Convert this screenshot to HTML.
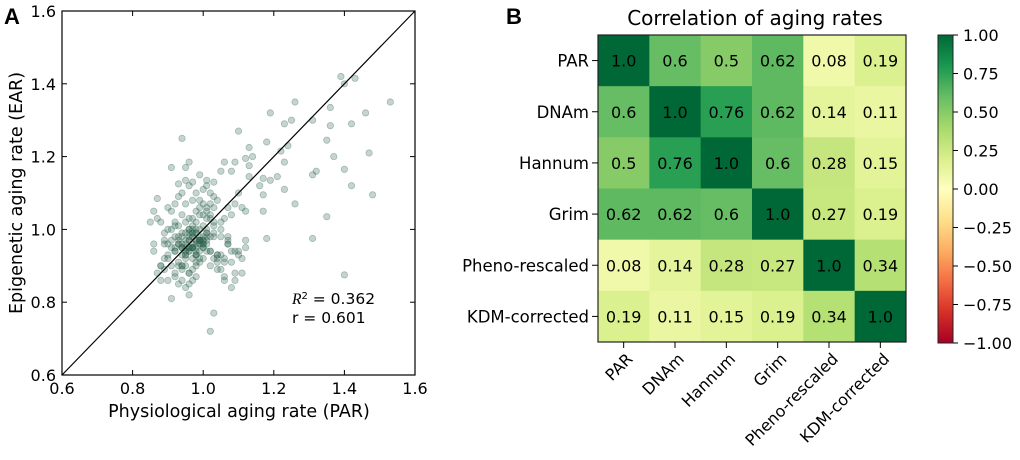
<!DOCTYPE html>
<html><head><meta charset="utf-8">
<style>
html,body{margin:0;padding:0;background:#fff;}
svg{display:block;font-family:"DejaVu Sans","Liberation Sans",sans-serif;}
</style></head>
<body>
<svg id="fig" width="1020" height="460" viewBox="0 0 1020 460" xmlns="http://www.w3.org/2000/svg">
  <text x="4" y="24" font-size="22" font-weight="bold" font-family="Liberation Sans, sans-serif">A</text>
  <text x="506" y="24" font-size="22" font-weight="bold" font-family="Liberation Sans, sans-serif">B</text>
  <g id="scatter"></g>
  <g id="heat"></g>
</svg>
<script>
// ---------- Scatter data ----------
const parValues = [1.39,1.40,1.43,1.53,1.26,1.25,1.23,1.19,1.31,1.36,1.46,1.42,1.36,1.35,1.18,1.24,1.22,1.23,1.37,1.47,1.10,0.94,1.13,1.14,1.12,1.13,1.21,1.17,1.19,1.23,1.40,1.31,1.32,1.42,1.48,1.16,1.17,1.26,1.17,1.35,1.18,1.31,1.40,1.03,1.02,0.91,0.96,0.91,0.95,0.96,1.05,1.06,1.09,1.08,1.13,0.99,1.01,1.03,0.97,0.95,0.93,
0.86,0.87,0.88,0.85,0.86,0.88,0.89,0.90,0.87,0.86,0.89,0.90,0.91,0.92,0.88,0.87,0.89,0.90,0.91,0.92,0.93,0.94,0.90,0.91,0.92,0.93,0.94,0.95,0.96,0.92,0.93,0.94,0.95,0.96,0.97,0.98,0.93,0.94,0.95,0.96,0.97,0.98,0.99,1.00,0.94,0.95,0.96,0.97,0.98,0.99,1.00,1.01,0.95,0.96,0.97,0.98,0.99,1.00,1.01,1.02,0.96,0.97,0.98,0.99,1.00,1.01,1.02,1.03,0.97,0.98,0.99,1.00,1.01,1.02,1.03,1.04,0.98,0.99,1.00,1.01,1.02,1.03,1.05,1.06,1.07,1.08,1.09,1.10,1.11,1.12,1.04,1.05,1.06,1.07,1.08,1.09,1.10,1.12,0.90,0.92,0.94,0.96,0.98,1.00,1.02,1.04,1.06,0.91,0.93,0.95,0.97,0.99,1.01,1.03,1.05,0.92,0.94,0.96,0.98,1.00,1.02,1.04,0.93,0.95,0.97,0.99,1.01,1.03,0.89,0.91,0.93,0.95,0.97,0.99,1.01,1.03,1.05,1.07,1.09,1.11,0.94,0.96,0.98,1.00,1.02,1.04,1.06,1.08,0.97,0.99,1.01,1.03,1.05,1.07,0.95,0.97,0.99,1.01,0.96,0.98,1.00,0.95,0.97,0.99,0.96,0.98,0.94,0.96,0.98,1.00,0.92,0.94,0.96,0.98,1.00,1.02,0.93,0.95,0.97,0.99,1.01,0.92,0.94,0.96,0.98,1.00,0.93,0.95,0.97,0.99,0.94,0.96,0.98,0.95,0.97,0.99,0.96,0.98,0.97,1.04,1.06,1.08,1.10,1.12,1.07,1.09,1.11,0.88,0.90,0.92,0.94,0.89,0.91,0.93,0.95,0.97,0.99,1.01];
const earValues = [1.42,1.40,1.415,1.35,1.35,1.30,1.29,1.32,1.30,1.335,1.32,1.29,1.285,1.245,1.24,1.23,1.215,1.185,1.20,1.21,1.27,1.25,1.225,1.20,1.195,1.175,1.145,1.14,1.135,1.11,1.165,1.15,1.16,1.12,1.095,1.12,1.095,1.07,1.05,1.035,0.975,0.975,0.875,0.77,0.72,0.81,0.82,1.17,1.17,1.185,1.16,1.185,1.185,1.16,1.145,1.15,1.135,1.13,1.13,1.135,1.125,
1.05,1.085,1.02,1.02,0.94,0.90,0.97,1.06,1.03,0.96,0.92,1.00,1.05,1.07,0.86,0.88,0.99,0.93,0.97,1.02,1.09,1.10,0.86,0.90,0.94,0.98,1.04,1.07,1.12,0.87,0.91,0.95,0.99,1.03,1.08,1.10,0.85,0.89,0.93,0.97,1.01,1.05,1.08,1.11,0.86,0.90,0.94,0.98,1.02,1.06,1.07,1.12,0.84,0.88,0.92,0.96,1.00,1.04,1.06,1.10,0.85,0.89,0.93,0.97,1.01,1.03,1.07,1.09,0.86,0.90,0.94,0.98,1.00,1.04,1.02,1.08,0.87,0.91,0.95,0.99,1.03,1.06,1.00,1.03,1.06,1.04,1.07,1.10,1.06,1.05,0.93,0.89,0.86,0.96,0.84,0.88,0.94,0.97,0.96,0.98,0.95,0.97,0.99,0.96,0.94,0.93,0.92,0.95,0.97,0.93,0.95,0.97,0.94,0.92,0.93,0.95,0.98,1.00,0.99,0.96,0.94,0.91,0.90,0.92,0.95,0.97,0.99,0.98,0.96,1.00,1.01,1.02,1.03,1.04,1.05,1.01,0.98,0.96,0.94,0.92,0.90,0.88,0.93,0.95,0.90,0.89,0.91,0.94,1.00,0.97,0.98,0.99,1.02,0.97,0.96,0.95,0.98,0.97,0.95,1.00,0.92,0.94,0.98,0.96,0.95,0.97,0.99,1.00,0.93,0.97,1.01,0.95,0.99,0.94,0.96,0.98,0.96,0.97,0.95,0.97,0.96,0.94,0.96,0.98,0.95,0.97,0.96,0.95,0.99,0.96,0.93,0.95,0.91,0.94,0.96,0.92,0.94,0.97,0.99,0.92,0.87,0.91,0.93,0.95,0.98,0.86,0.88,0.90,0.92,0.88,0.90,0.89];
const scatterTicks = [0.6,0.8,1.0,1.2,1.4,1.6];

// ---------- Heatmap data ----------
const labels = ["PAR","DNAm","Hannum","Grim","Pheno-rescaled","KDM-corrected"];
const corrRow0 = [1.0,0.6,0.5,0.62,0.08,0.19];
const corrRow1 = [0.6,1.0,0.76,0.62,0.14,0.11];
const corrRow2 = [0.5,0.76,1.0,0.6,0.28,0.15];
const corrRow3 = [0.62,0.62,0.6,1.0,0.27,0.19];
const corrRow4 = [0.08,0.14,0.28,0.27,1.0,0.34];
const corrRow5 = [0.19,0.11,0.15,0.19,0.34,1.0];
const cbarTicks = ["1.00","0.75","0.50","0.25","0.00","\u22120.25","\u22120.50","\u22120.75","\u22121.00"];
const cbarTickValues = [1,0.75,0.5,0.25,0,-0.25,-0.5,-0.75,-1];

const NS="http://www.w3.org/2000/svg";
function mk(tag, attrs, parent){const e=document.createElementNS(NS,tag);for(const k in attrs)e.setAttribute(k,attrs[k]);parent.appendChild(e);return e;}

// ----- Scatter -----
const sg=document.getElementById('scatter');
const L=62,R=415,T=11,B=375;
const sx=v=>L+(v-0.6)/1.0*(R-L);
const sy=v=>B-(v-0.6)/1.0*(B-T);
const nPts=Math.min(parValues.length,earValues.length);
for(let i=0;i<nPts;i++){
  const c=mk('circle',{cx:sx(parValues[i]).toFixed(1),cy:sy(earValues[i]).toFixed(1),r:3.2,fill:'rgba(45,100,80,0.28)',stroke:'rgba(45,100,80,0.35)','stroke-width':0.8},sg);
  
  
}
const dl=mk('line',{x1:sx(0.6),y1:sy(0.6),x2:sx(1.6),y2:sy(1.6),stroke:'#000','stroke-width':1.2},sg);


const fr=mk('rect',{x:L,y:T,width:R-L,height:B-T,fill:'none',stroke:'#000','stroke-width':1.2},sg);


scatterTicks.forEach(t=>{
  const x=sx(t),y=sy(t);
  mk('line',{x1:x,y1:B,x2:x,y2:B-5,stroke:'#000'},sg);
  mk('line',{x1:x,y1:T,x2:x,y2:T+5,stroke:'#000'},sg);
  mk('line',{x1:L,y1:y,x2:L+5,y2:y,stroke:'#000'},sg);
  mk('line',{x1:R,y1:y,x2:R-5,y2:y,stroke:'#000'},sg);
  const xt=mk('text',{x:x,y:394,'text-anchor':'middle','font-size':16},sg);xt.textContent=t.toFixed(1);
  
  
  const yt=mk('text',{x:56,y:y+6,'text-anchor':'end','font-size':16},sg);yt.textContent=t.toFixed(1);
  
  
});
const xl=mk('text',{x:239,y:417,'text-anchor':'middle','font-size':17.5},sg);xl.textContent='Physiological aging rate (PAR)';


const yl=mk('text',{x:0,y:0,'text-anchor':'middle','font-size':17.5,transform:'translate(22,193) rotate(-90)'},sg);yl.textContent='Epigenetic aging rate (EAR)';


const r2=mk('text',{x:292,y:304,'font-size':15.5},sg);
r2.innerHTML='<tspan font-style="italic" font-family="Liberation Serif, serif">R</tspan><tspan font-size="10" dy="-5">2</tspan><tspan dy="5"> = 0.362</tspan>';


const rr=mk('text',{x:292,y:323,'font-size':15.5},sg);rr.textContent='r = 0.601';



// ----- Heatmap -----
const stops=["#a50026","#d73027","#f46d43","#fdae61","#fee08b","#ffffbf","#d9ef8b","#a6d96a","#66bd63","#1a9850","#006837"];
function hex(h){return [1,3,5].map(i=>parseInt(h.substr(i,2),16));}
function cmap(v){let t=(v+1)/2*10;t=Math.max(0,Math.min(10,t));const i=Math.min(9,Math.floor(t)),f=t-i;const a=hex(stops[i]),b=hex(stops[i+1]);return 'rgb('+a.map((c,k)=>Math.round(c+(b[k]-c)*f)).join(',')+')';}
const hg=document.getElementById('heat');
const HL=598,HR=906,HT=35,HB=342;
const n=labels.length, cw=(HR-HL)/n, ch=(HB-HT)/n;
const hx=j=>HL+j*cw, hy=i=>HT+i*ch;
const rows=[corrRow0,corrRow1,corrRow2,corrRow3,corrRow4,corrRow5];
rows.forEach((row,i)=>row.forEach((v,j)=>{
  const c=mk('rect',{x:hx(j).toFixed(2),y:hy(i).toFixed(2),width:(cw+0.5).toFixed(2),height:(ch+0.5).toFixed(2),fill:cmap(v)},hg);
  
  
  const t=mk('text',{x:hx(j)+cw/2,y:hy(i)+ch/2+6,'text-anchor':'middle','font-size':16},hg);
  t.textContent=(v===1?'1.0':String(v));
  
  
}));
const hf=mk('rect',{x:HL,y:HT,width:HR-HL,height:HB-HT,fill:'none',stroke:'#222','stroke-width':1.2},hg);


labels.forEach((lab,i)=>{
  const y=hy(i)+ch/2, x=hx(i)+cw/2;
  mk('line',{x1:HL-6,y1:y,x2:HL,y2:y,stroke:'#000'},hg);
  mk('line',{x1:x,y1:HB,x2:x,y2:HB+6,stroke:'#000'},hg);
  const rl=mk('text',{x:HL-9,y:y+6,'text-anchor':'end','font-size':16.5},hg);rl.textContent=lab;
  
  
  const cl=mk('text',{x:0,y:0,'text-anchor':'end','font-size':16,transform:'translate('+(x+10)+','+(HB+18)+') rotate(-45)'},hg);cl.textContent=lab;
  
  
});
const ttl=mk('text',{x:(HL+HR)/2+3,y:25,'text-anchor':'middle','font-size':20},hg);ttl.textContent='Correlation of aging rates';



// colorbar
const defs=mk('defs',{},hg);
const lg=mk('linearGradient',{id:'cbg',x1:0,y1:1,x2:0,y2:0},defs);
stops.forEach((s,k)=>mk('stop',{offset:(k/10),'stop-color':s},lg));
const CL=938,CR=953,CT=35,CB=343;
const cb=mk('rect',{x:CL,y:CT,width:CR-CL,height:CB-CT,fill:'url(#cbg)',stroke:'#222','stroke-width':1},hg);


const cy=v=>CB-(v+1)/2*(CB-CT);
cbarTickValues.forEach((v,k)=>{
  const y=cy(v);
  mk('line',{x1:CR,y1:y,x2:CR+5,y2:y,stroke:'#000'},hg);
  const t=mk('text',{x:CR+10,y:y+6,'font-size':16},hg);t.textContent=cbarTicks[k];
  
  
});
</script>
</body></html>
